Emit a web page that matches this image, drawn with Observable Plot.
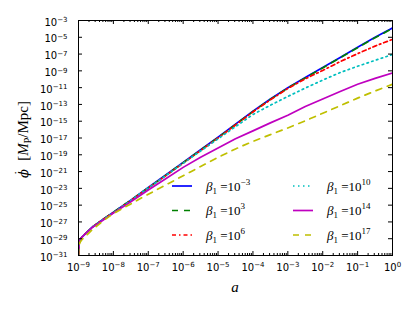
<!DOCTYPE html>
<html><head><meta charset="utf-8">
<script src="https://cdn.jsdelivr.net/npm/d3@7"></script>
<script src="https://cdn.jsdelivr.net/npm/@observablehq/plot@0.6"></script>
<style>
body{margin:0;background:#fff}
#wrap{position:relative;width:415px;height:311px;overflow:hidden}
</style></head><body><div id="wrap"></div>
<script>
// log10(a) grid shared by all curves
const logA = [-9, -8.99, -8.95, -8.9, -8.8, -8.6, -8.3, -8, -7.5, -7, -6.5, -6, -5.5, -5, -4.5, -4, -3.5, -3, -2.5, -2, -1.5, -1, -0.5, 0];
// log10(phi dot) for each beta_1
const yB3m = [-31, -29.6, -29.1, -28.8, -28.4, -27.6, -26.7, -25.85, -24.4, -22.9, -21.4, -19.9, -18.4, -16.9, -15.35, -13.8, -12.35, -11.0, -9.8, -8.6, -7.4, -6.2, -5.0, -3.9];
const yB3  = [-31, -29.6, -29.1, -28.8, -28.4, -27.6, -26.7, -25.85, -24.4, -22.95, -21.45, -19.95, -18.45, -16.95, -15.4, -13.85, -12.4, -11.05, -9.85, -8.65, -7.45, -6.25, -5.05, -3.95];
const yB6  = [-31, -29.6, -29.1, -28.8, -28.4, -27.6, -26.7, -25.9, -24.45, -22.95, -21.5, -20.0, -18.5, -17.0, -15.45, -13.9, -12.45, -11.1, -9.95, -8.95, -7.9, -6.95, -6.05, -5.25];
const yB10 = [-31, -29.6, -29.1, -28.8, -28.4, -27.6, -26.7, -25.9, -24.45, -22.95, -21.5, -20.0, -18.55, -17.1, -15.65, -14.2, -13.1, -12.05, -11.05, -10.1, -9.2, -8.45, -7.75, -7.05];
const yB14 = [-31, -29.6, -29.1, -28.8, -28.4, -27.65, -26.8, -25.95, -24.6, -23.2, -21.85, -20.5, -19.3, -18.2, -17.1, -16.15, -15.2, -14.3, -13.25, -12.35, -11.45, -10.6, -9.9, -9.25];
const yB17 = [-31, -29.8, -29.4, -29.1, -28.7, -27.9, -26.9, -26.0, -24.85, -23.7, -22.6, -21.5, -20.4, -19.3, -18.3, -17.4, -16.6, -15.8, -14.95, -14.05, -13.15, -12.25, -11.4, -10.6];
const betaExps = ["−3", "3", "6", "10", "14", "17"];
const colors = ["#0000ff", "#008000", "#ff0000", "#00bfbf", "#bf00bf", "#bfbf00"];
const dashes = [null, "6,6", "4,3,1.5,3", "1.5,3.5", null, "6,6"];
const xTickExps = [-9, -8, -7, -6, -5, -4, -3, -2, -1, 0];
const yTickExps = [-31, -29, -27, -25, -23, -21, -19, -17, -15, -13, -11, -9, -7, -5, -3];

const seriesY = [yB3m, yB3, yB6, yB10, yB14, yB17];
const data = seriesY.flatMap((ys, i) => ys.map((v, j) => ({a: 10 ** logA[j], phi: 10 ** v, s: i})));

const W = 415, H = 311, mL = 78, mR = 23, mT = 20, mB = 56;
const fw = W - mL - mR, fh = H - mT - mB;
const xMajor = xTickExps.map(e => 10 ** e);
const xMinor = xTickExps.slice(0, -1).flatMap(e => d3.range(2, 10).map(m => m * 10 ** e));
const yMajor = yTickExps.map(e => 10 ** e);
const fmt = d => "10^" + Math.round(Math.log10(d));

const plot = Plot.plot({
  width: W, height: H,
  marginLeft: mL, marginRight: mR, marginTop: mT, marginBottom: mB,
  style: {fontFamily: "DejaVu Sans, sans-serif", fontSize: "10px", background: "#fff", color: "#000"},
  x: {type: "log", domain: [1e-9, 1]},
  y: {type: "log", domain: [1e-31, 1e-3]},
  marks: [
    ...seriesY.map((_, i) => Plot.line(data.filter(d => d.s === i), {
      x: "a", y: "phi", stroke: colors[i], strokeWidth: 1.7,
      strokeDasharray: dashes[i] || undefined, clip: true
    })),
    Plot.frame({stroke: "#000", strokeWidth: 1}),
    Plot.tickX(xMajor, {x: d => d, insetTop: fh - 4, stroke: "#000"}),
    Plot.tickX(xMajor, {x: d => d, insetBottom: fh - 4, stroke: "#000"}),
    Plot.tickX(xMinor, {x: d => d, insetTop: fh - 2, stroke: "#000"}),
    Plot.tickX(xMinor, {x: d => d, insetBottom: fh - 2, stroke: "#000"}),
    Plot.tickY(yMajor, {y: d => d, insetRight: fw - 4, stroke: "#000"}),
    Plot.tickY(yMajor, {y: d => d, insetLeft: fw - 4, stroke: "#000"}),
    Plot.axisX(xMajor, {tickSize: 0, tickPadding: 8, tickFormat: fmt, label: null, fontSize: 10}),
    Plot.axisY(yMajor, {tickSize: 0, tickPadding: 11, tickFormat: fmt, label: null, fontSize: 10, dy: 2})
  ]
});

// superscript exponents in tick labels
d3.select(plot).selectAll("text").each(function () {
  const t = this.textContent;
  const m = /^10\^(-?\d+)$/.exec(t);
  if (!m) return;
  const el = d3.select(this);
  el.text(null);
  el.append("tspan").text("10");
  el.append("tspan").attr("dy", "-0.5em").attr("font-size", "7px").text(m[1].replace("-", "−"));
});

const svg = d3.select(plot);
// axis titles
const yt = svg.append("text")
  .attr("transform", `translate(28,${mT + fh / 2 + 2}) rotate(-90)`)
  .attr("text-anchor", "middle")
  .attr("font-family", "Liberation Serif, serif").attr("font-size", "15px").attr("fill", "#000");
yt.append("tspan").attr("font-family", "DejaVu Serif, serif").attr("font-style", "italic").attr("font-size", "13px").text("ϕ");
yt.append("tspan").attr("dx", -6).attr("dy", -5).attr("font-size", "13px").text("˙");
yt.append("tspan").attr("dx", 10).attr("dy", 5).text("[");
yt.append("tspan").attr("font-style", "italic").text("M");
yt.append("tspan").attr("dy", 3).attr("font-size", "10px").text("P");
yt.append("tspan").attr("dy", -3).text("/Mpc]");

svg.append("text").attr("x", mL + fw / 2).attr("y", 292).attr("text-anchor", "middle")
  .attr("font-family", "Liberation Serif, serif").attr("font-size", "15px").attr("font-style", "italic")
  .attr("fill", "#000").text("a");

// legend
const lg = svg.append("g");
const colX = [172, 293], txtX = [206, 327], rowY = [186, 210.5, 235];
betaExps.forEach((e, i) => {
  const c = i < 3 ? 0 : 1, r = i % 3;
  lg.append("line").attr("x1", colX[c]).attr("x2", colX[c] + 20).attr("y1", rowY[r]).attr("y2", rowY[r])
    .attr("stroke", colors[i]).attr("stroke-width", 1.7).attr("stroke-dasharray", dashes[i]);
  const t = lg.append("text").attr("x", txtX[c]).attr("y", rowY[r] + 4.5).attr("text-anchor", "start")
    .attr("font-family", "Liberation Serif, serif").attr("font-size", "13px").attr("fill", "#000");
  t.append("tspan").attr("font-style", "italic").text("β");
  t.append("tspan").attr("dy", 3).attr("font-size", "9px").text("1");
  t.append("tspan").attr("dy", -3).text(" =10");
  t.append("tspan").attr("dy", -6).attr("font-size", "9px").text(e);
});

document.getElementById("wrap").appendChild(plot);
</script></body></html>
